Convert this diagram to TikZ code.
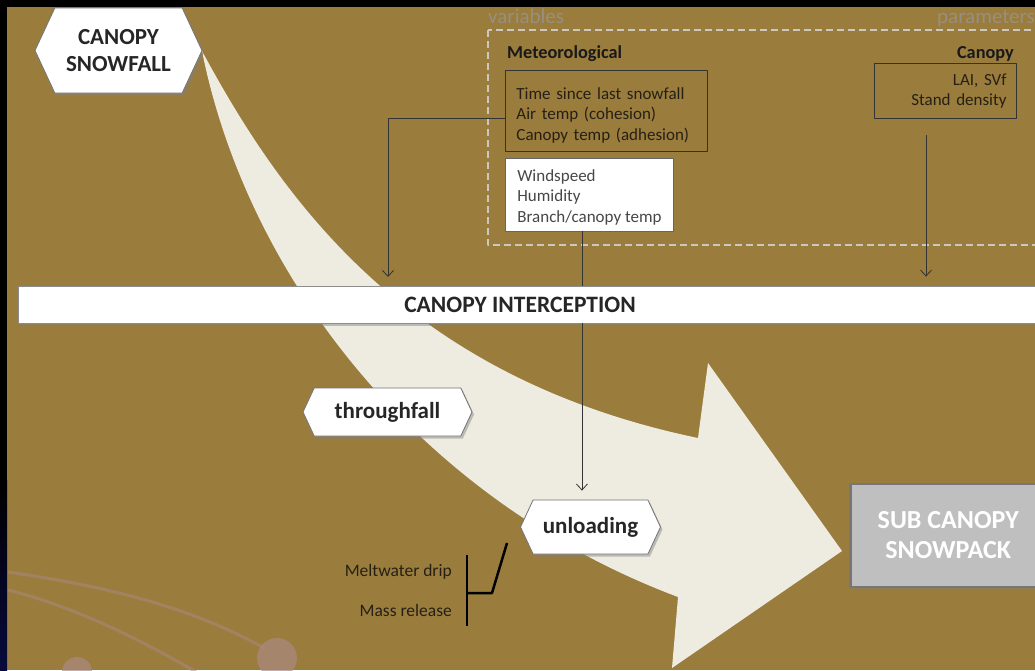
\documentclass[tikz,border=0pt]{standalone}
\usepackage{fontspec}
\setmainfont{Carlito}
\usetikzlibrary{shapes.symbols,shadows,arrows.meta}
\definecolor{bgbrown}{RGB}{154,124,61}
\definecolor{snowcream}{RGB}{238,235,224}
\definecolor{packgrey}{RGB}{191,191,191}
\definecolor{packedge}{RGB}{118,118,118}
\definecolor{dashgrey}{RGB}{205,200,190}
\definecolor{labelgrey}{RGB}{152,143,128}
\definecolor{inktext}{RGB}{38,32,20}
\definecolor{decor}{RGB}{170,138,128}
\definecolor{navy}{RGB}{8,10,60}
\tikzset{
  hexlabel/.style={signal, signal to=east and west, signal pointer angle=130,
    fill=white, draw=black!55, line width=0.8pt, align=center, inner sep=0pt,
    font=\bfseries\fontsize{23}{27}\selectfont, text=black!85,
    drop shadow={shadow xshift=2pt, shadow yshift=-2.5pt, opacity=0.45}},
  varbox/.style={draw=black!80, line width=0.9pt, anchor=north west, inner xsep=11pt,
    font=\fontsize{17}{20.5}\selectfont, text=inktext},
  link/.style={draw=black!80, line width=0.8pt},
  headlabel/.style={inner sep=0pt, font=\bfseries\fontsize{18.3}{21}\selectfont, text=black!90},
  smalllabel/.style={font=\fontsize{17.5}{20}\selectfont, text=inktext, inner sep=0pt}
}
\begin{document}
\begin{tikzpicture}[x=1pt,y=-1pt,>={Straight Barb[length=6pt,width=11pt]},line join=round]
  \useasboundingbox (0,0) rectangle (1035,670);
  % slide background
  \fill[bgbrown] (0,0) rectangle (1035,670);
  \fill[black] (0,0) rectangle (1035,7);
  \fill[black] (0,0) rectangle (7,670);
  \shade[top color=black, bottom color=navy] (0,480) rectangle (7,670);
  \draw[decor, line width=3pt, opacity=0.55] (8,572) .. controls (120,588) and (200,612) .. (264,648);
  \draw[decor, line width=3pt, opacity=0.55] (8,590) .. controls (80,608) and (150,645) .. (196,672);
  \fill[decor, opacity=0.7] (277,658) circle (20pt);
  \fill[decor, opacity=0.7] (77,672) circle (15pt);

  % the big snow arrow
  \fill[snowcream] (202,51) .. controls (285,205) and (410,378) .. (698,438) -- (708,363)
    -- (842,551) -- (672,668) -- (678,597) .. controls (420,500) and (250,280) .. (203,56) -- cycle;

  % variables / parameters frame
  \draw[dashgrey, dashed, dash pattern=on 7pt off 4pt, line width=1.6pt] (488,30) rectangle (1045,245);
  \node[anchor=base west, inner sep=0pt, text=labelgrey, font=\fontsize{21}{24}\selectfont] (varlabel) at (488,23) {variables};
  \node[anchor=base west, inner sep=0pt, text=labelgrey, font=\fontsize{21}{24}\selectfont] (parlabel) at (937,23) {parameters};

  \node[headlabel, anchor=base west] (metlabel) at (507,58) {Meteorological};
  \node[headlabel, anchor=base east] (canlabel) at (1014,58) {Canopy};

  \node[varbox, text width=180pt, inner ysep=6pt, minimum height=80pt, align=left] (metbox) at (505,70)
    {\rule{0pt}{23pt}Time since last snowfall\\Air temp (cohesion)\\Canopy temp (adhesion)\rule[-4.5pt]{0pt}{0pt}};
  \node[varbox, fill=white, draw=black!60, text=black!72, inner xsep=3pt, inner ysep=4pt, minimum width=168pt, minimum height=72pt, align=left] (windbox) at (505,158)
    {\rule{0pt}{19pt}Windspeed\\Humidity\\Branch/canopy temp\rule[-4.5pt]{0pt}{0pt}};
  \node[varbox, anchor=north east, inner xsep=10pt, text width=122pt, minimum height=55pt, align=right] (laibox) at (1017,63)
    {LAI, SVf\\Stand density};

  % process boxes
  \node[hexlabel, minimum width=167pt, minimum height=85pt] (snowfall) at (118.5,50.5) {CANOPY\\SNOWFALL};
  \node[fill=white, draw=black!45, line width=0.8pt, minimum width=1040pt, minimum height=37pt, anchor=west,
    drop shadow={shadow xshift=1.5pt, shadow yshift=-2.5pt, opacity=0.45}] (intercept) at (17.5,304.5) {};
  \node[font=\bfseries\fontsize{23.5}{27}\selectfont, text=black!85] (interceptlabel) at (520,305) {CANOPY INTERCEPTION};
  \node[hexlabel, minimum width=169pt, minimum height=48pt] (throughfall) at (387.5,412) {throughfall};
  \node[hexlabel, minimum width=140pt, minimum height=54pt] (unload) at (590.5,527) {unloading};
  \node[fill=packgrey, draw=packedge, line width=2.5pt, minimum width=196pt, minimum height=103pt, anchor=west,
    align=center, text=white, font=\bfseries\fontsize{26}{30}\selectfont,
    drop shadow={shadow xshift=2pt, shadow yshift=-2.5pt, opacity=0.4}] (subpack) at (849,535.5) {SUB CANOPY\\SNOWPACK};

  % connectors
  \coordinate (metin) at (388,286);
  \coordinate (laiout) at (926,135);
  \draw[link, ->, shorten >=9pt] ([yshift=-8pt]metbox.west) -| (metin);
  \draw[link, ->, shorten >=9pt] (laiout) -- (laiout |- intercept.north);
  \draw[link] ([xshift=-7.5pt]windbox.south) -- ([xshift=-7.5pt]windbox.south |- intercept.north);
  \draw[link, ->, shorten >=9pt] ([xshift=-7.5pt]windbox.south |- intercept.south) -- ([xshift=-7.5pt]windbox.south |- unload.north);

  % meltwater / mass release
  \node[smalllabel, anchor=base east] (drip) at (452,576) {Meltwater drip};
  \node[smalllabel, anchor=base east] (mass) at (452,616) {Mass release};
  \draw[line width=2.5pt, black] (467,555) -- (467,626);
  \draw[line width=2.5pt, black] (467,593) -- (492,593) -- (507,543);
\end{tikzpicture}
\end{document}
